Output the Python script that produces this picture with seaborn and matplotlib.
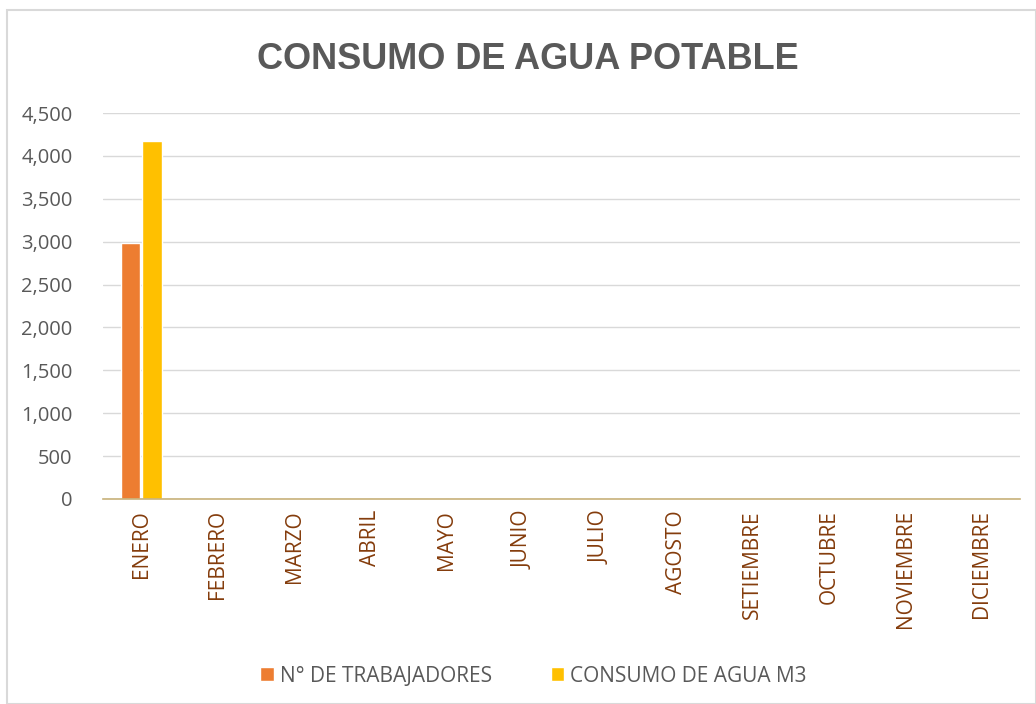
import matplotlib
matplotlib.use("Agg")
import matplotlib.pyplot as plt
import matplotlib.ticker as mticker
from matplotlib.patches import Rectangle
import pandas as pd
import seaborn as sns

months = ["ENERO", "FEBRERO", "MARZO", "ABRIL", "MAYO", "JUNIO", "JULIO",
          "AGOSTO", "SETIEMBRE", "OCTUBRE", "NOVIEMBRE", "DICIEMBRE"]
trabajadores = [2980, 0, 0, 0, 0, 0, 0, 0, 0, 0, 0, 0]
consumo = [4170, 0, 0, 0, 0, 0, 0, 0, 0, 0, 0, 0]
series_names = ["N° DE TRABAJADORES", "CONSUMO DE AGUA M3"]
colors = ["#ED7D31", "#FFC000"]

df = pd.DataFrame({
    "mes": months * 2,
    "valor": trabajadores + consumo,
    "serie": [series_names[0]] * len(months) + [series_names[1]] * len(months),
})

sns.set_theme(style="white")
plt.rcParams["font.family"] = ["Liberation Sans", "DejaVu Sans"]

fig = plt.figure(figsize=(10.36, 7.04), dpi=100)
ax = fig.add_axes([103 / 1036, 1 - 499 / 704, 917 / 1036, 386 / 704])

sns.barplot(data=df, x="mes", y="valor", hue="serie", palette=colors,
            saturation=1, width=0.56, gap=0.1, ax=ax, legend=True)

ax.set_ylim(0, 4500)
ax.set_xlim(-0.5, len(months) - 0.5)
ax.yaxis.set_major_locator(mticker.MultipleLocator(500))
ax.yaxis.set_major_formatter(mticker.StrMethodFormatter("{x:,.0f}"))
ax.grid(axis="y", color="#d9d9d9", linewidth=1)
ax.set_axisbelow(True)
for side in ["top", "right", "left"]:
    ax.spines[side].set_visible(False)
ax.spines["bottom"].set_color("#c8b27a")
ax.spines["bottom"].set_linewidth(1.2)
ax.set_xlabel("")
ax.set_ylabel("")
ax.tick_params(axis="y", length=0, labelsize=14.5, labelcolor="#595959", pad=22)
ax.tick_params(axis="x", length=0, labelsize=15, labelcolor="#843C0C", pad=8)
for lbl in ax.get_yticklabels():
    lbl.set_family(["Open Sans", "DejaVu Sans"])
for lbl in ax.get_xticklabels():
    lbl.set_rotation(90)
    lbl.set_family(["Open Sans", "DejaVu Sans"])
    lbl.set_va("top")

fig.suptitle("CONSUMO DE AGUA POTABLE", x=0.509, y=0.94, fontsize=26,
             fontweight="bold", color="#595959")

handles, labels = ax.get_legend_handles_labels()
ax.get_legend().remove()
fig.legend(handles, labels, loc="center", bbox_to_anchor=(0.515, 1 - 676 / 704),
           ncol=2, frameon=False, handlelength=0.65, handleheight=0.65,
           handletextpad=0.3, columnspacing=2.8,
           prop={"family": ["Open Sans", "DejaVu Sans"], "size": 15},
           labelcolor="#595959")

fig.patches.append(Rectangle((7 / 1036, 0), 1 - 7 / 1036, 1 - 10 / 704,
                             transform=fig.transFigure, fill=False,
                             edgecolor="#d9d9d9", linewidth=1.5))

fig.savefig("out.png", dpi=100, facecolor="white")
